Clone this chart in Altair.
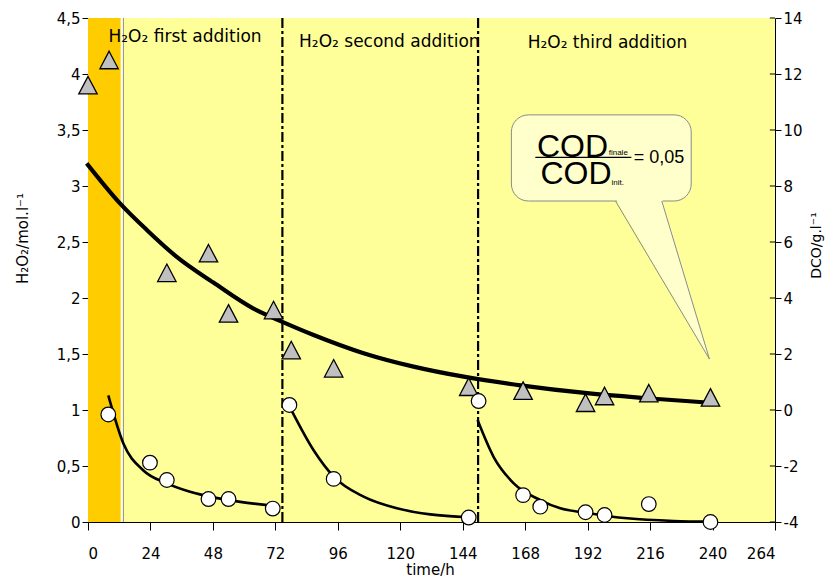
import altair as alt
import pandas as pd

# ---------------- data ----------------
# H2O2 measurements (left axis, mol/l)
h2o2_time = [7.8, 23.8, 30.3, 46.3, 54.0, 71.0, 77.4, 94.4, 146.3, 150.1, 167.2, 173.8, 191.2, 198.5, 215.5, 239.2]
h2o2_conc = [0.96, 0.53, 0.375, 0.205, 0.205, 0.12, 1.045, 0.385, 0.04, 1.08, 0.24, 0.137, 0.087, 0.0625, 0.16, 0.0]

# COD (DCO) measurements (right axis, g/l)
cod_time = [0, 8.1, 30.3, 46.3, 54.0, 71.3, 78.1, 94.4, 146.3, 167.2, 191.2, 198.5, 215.5, 239.2]
cod_value = [11.6, 12.5, 4.9, 5.6, 3.45, 3.57, 2.14, 1.49, 0.83, 0.69, 0.26, 0.5, 0.6, 0.45]

# COD fitted curve (right axis)
cod_fit_time = [0, 12.3, 22.6, 34.1, 48.2, 63.6, 74.7, 86.7, 105.9, 125.1, 144.4, 166.2, 191.8, 214.9, 240.5]
cod_fit_value = [8.75, 7.38, 6.43, 5.47, 4.55, 3.62, 3.15, 2.68, 2.03, 1.55, 1.19, 0.88, 0.60, 0.42, 0.25]

# H2O2 decay fits after each addition (left axis)
fit1_time = [7.8, 13.6, 21.3, 30.3, 39.2, 48.2, 58.5, 71.3]
fit1_conc = [1.13, 0.70, 0.46, 0.345, 0.27, 0.22, 0.18, 0.145]
fit2_time = [78.0, 86.7, 94.4, 105.9, 118.7, 131.5, 146.3]
fit2_conc = [1.005, 0.64, 0.405, 0.226, 0.122, 0.068, 0.042]
fit3_time = [149.7, 155.9, 163.6, 173.8, 181.5, 191.2, 207.2, 225.1, 239.2]
fit3_conc = [0.91, 0.58, 0.345, 0.196, 0.122, 0.083, 0.033, 0.009, 0.003]

# additions
addition_times = [74.7, 149.9]
addition_labels = ["H\u2082O\u2082 first addition", "H\u2082O\u2082 second addition", "H\u2082O\u2082 third addition"]
addition_label_t = [37.3, 115.8, 199.6]
addition_label_y = [4.33, 4.29, 4.28]

# initial (orange) phase
orange_end = 12.6
strip_end = 13.8
strip_line = 13.6

# x / y ticks
x_ticks = list(range(0, 265, 24))
yl_ticks = [0, 0.5, 1, 1.5, 2, 2.5, 3, 3.5, 4, 4.5]
yr_ticks = list(range(-4, 15, 2))

# callout (data coordinates)
box_t = [162.7, 231.8]
box_y = [2.866, 3.635]
tail_t_left = 202.7
tail_t_right = 220.5
tip_t = 238.8
tip_y = 1.455

FONT = "DejaVu Sans"
YELLOW = "#FFFF99"
ORANGE = "#FFCC00"
CALLOUT = "#FFFFCC"

# ---------------- encodings ----------------
x_scale = alt.Scale(domain=[0, 264], nice=False, zero=False)
x_axis = alt.Axis(values=x_ticks, title="time/h", grid=False,
                  labelFont=FONT, labelFontSize=15, labelColor="black",
                  tickColor="black", domainColor="black", tickSize=8, labelPadding=16,
                  titleFont=FONT, titleFontSize=15, titleFontWeight="normal", titleColor="black",
                  titleX=342, titleY=52, titleBaseline="alphabetic", titleAlign="center")


def X(f):
    return alt.X(f"{f}:Q", scale=x_scale, axis=x_axis)


yl_scale = alt.Scale(domain=[0, 4.5], nice=False, zero=False)
yl_axis = alt.Axis(values=yl_ticks, title="H\u2082O\u2082/mol.l\u207b\u00b9", grid=False,
                   labelExpr="replace(toString(datum.value), '.', ',')",
                   labelFont=FONT, labelFontSize=15, labelColor="black",
                   tickColor="black", domainColor="black", tickSize=6, labelPadding=2,
                   titleFont=FONT, titleFontSize=15, titleFontWeight="normal", titleColor="black",
                   titleX=-66, titleY=220, titleAngle=270, titleAlign="center", titleBaseline="middle")


def YL(f):
    return alt.Y(f"{f}:Q", scale=yl_scale, axis=yl_axis)


def YLn(f):
    return alt.Y(f"{f}:Q", scale=yl_scale, axis=None)


yr_scale = alt.Scale(domain=[-4, 14], nice=False, zero=False)
yr_axis = alt.Axis(orient="right", values=yr_ticks, title="DCO/g.l\u207b\u00b9", grid=False,
                   labelExpr="toString(datum.value)",
                   labelFont=FONT, labelFontSize=15, labelColor="black",
                   tickColor="black", domainColor="black", tickSize=6, labelPadding=2,
                   titleFont=FONT, titleFontSize=14, titleFontWeight="normal", titleColor="black",
                   titleX=41, titleY=227, titleAngle=270, titleAlign="center", titleBaseline="middle")


def YR(f):
    return alt.Y(f"{f}:Q", scale=yr_scale, axis=yr_axis)


# ---------------- background group (left scale, with axis) ----------------
orange_df = pd.DataFrame({"t0": [0], "t1": [orange_end], "y0": [0], "y1": [4.5]})
orange = alt.Chart(orange_df).mark_rect(color=ORANGE).encode(
    x=X("t0"), x2="t1", y=YL("y0"), y2="y1")

strip_df = pd.DataFrame({"t0": [orange_end], "t1": [strip_end], "y0": [0], "y1": [4.5]})
strip = alt.Chart(strip_df).mark_rect(color="#FFFFE8").encode(
    x=X("t0"), x2="t1", y=YL("y0"), y2="y1")

strip_rule = alt.Chart(pd.DataFrame({"t": [strip_line]})).mark_rule(
    color="#8C8C8C", strokeWidth=1).encode(x=X("t"))

add_df = pd.DataFrame({"t": addition_times})
add_rules = alt.Chart(add_df).mark_rule(
    color="black", strokeWidth=2.2, strokeDash=[10, 3, 3, 3]).encode(x=X("t"))

lab_df = pd.DataFrame({"t": addition_label_t, "y": addition_label_y, "txt": addition_labels})
add_text = alt.Chart(lab_df).mark_text(font=FONT, fontSize=17, color="black",
                                      align="center", baseline="middle").encode(
    x=X("t"), y=YL("y"), text="txt:N")

left_bg = alt.layer(orange, strip, strip_rule, add_rules, add_text)

# ---------------- COD group (right scale) ----------------
cod_fit_df = pd.DataFrame({"t": cod_fit_time, "v": cod_fit_value})
cod_line = alt.Chart(cod_fit_df).mark_line(color="black", strokeWidth=4.2,
                                           interpolate="monotone", strokeCap="square").encode(
    x=X("t"), y=YR("v"))

cod_df = pd.DataFrame({"t": cod_time, "v": cod_value})
cod_pts = alt.Chart(cod_df).mark_point(shape="M0,-0.95L1,0.95L-1,0.95Z", size=340, filled=True,
                                       fill="#C0C0C0", stroke="black", strokeWidth=1.3,
                                       opacity=1).encode(
    x=X("t"), y=YR("v"))

# inner half of the right-axis ticks (the reference's ticks cross the axis)
rtick_df = pd.DataFrame({"v": yr_ticks, "t0": [262.0] * len(yr_ticks), "t1": [264.0] * len(yr_ticks)})
rticks = alt.Chart(rtick_df).mark_rule(color="black", strokeWidth=1).encode(
    x=X("t0"), x2="t1", y=YR("v"))

right = alt.layer(cod_line, cod_pts, rticks)

# ---------------- H2O2 group + callout (left scale, no axis) ----------------
fit_df = pd.concat([
    pd.DataFrame({"t": fit1_time, "v": fit1_conc, "seg": 1}),
    pd.DataFrame({"t": fit2_time, "v": fit2_conc, "seg": 2}),
    pd.DataFrame({"t": fit3_time, "v": fit3_conc, "seg": 3}),
])
h_lines = alt.Chart(fit_df).mark_line(color="black", strokeWidth=2.6, interpolate="monotone").encode(
    x=X("t"), y=YLn("v"), detail="seg:N")

h_df = pd.DataFrame({"t": h2o2_time, "v": h2o2_conc})
h_pts = alt.Chart(h_df).mark_point(shape="circle", size=215, filled=True, fill="white",
                                   stroke="black", strokeWidth=1.2, opacity=1).encode(
    x=X("t"), y=YLn("v"))

box_df = pd.DataFrame({"t0": [box_t[0]], "t1": [box_t[1]], "y0": [box_y[0]], "y1": [box_y[1]]})
box = alt.Chart(box_df).mark_rect(fill=CALLOUT, stroke="#8A8A8A", strokeWidth=1,
                                  cornerRadius=17).encode(
    x=X("t0"), x2="t1", y=YLn("y0"), y2="y1")

tail_df = pd.DataFrame({"y": [box_y[0] + 0.025, tip_y],
                        "ta": [tail_t_left, tip_t], "tb": [tail_t_right, tip_t]})
tail = alt.Chart(tail_df).mark_area(fill=CALLOUT, orient="horizontal", opacity=1).encode(
    y=YLn("y"), x=X("ta"), x2="tb")

edge_df = pd.DataFrame({"t": [tail_t_left, tip_t, tail_t_right, tip_t],
                        "y": [box_y[0], tip_y, box_y[0], tip_y], "e": [1, 1, 2, 2]})
edges = alt.Chart(edge_df).mark_line(color="#8A8A8A", strokeWidth=1).encode(
    x=X("t"), y=YLn("y"), detail="e:N")

# fraction COD_finale / COD_init. = 0,05
big_df = pd.DataFrame({"t": [186.2, 187.5], "y": [3.262, 3.018], "txt": ["COD", "COD"]})
big_text = alt.Chart(big_df).mark_text(font="Liberation Sans", fontSize=32, color="black",
                                      align="center", baseline="alphabetic").encode(
    x=X("t"), y=YLn("y"), text="txt:N")

sub_df = pd.DataFrame({"t": [200.1, 201.2], "y": [3.277, 3.009], "txt": ["finale", "init."]})
sub_text = alt.Chart(sub_df).mark_text(font="Liberation Sans", fontSize=8, color="black",
                                      align="left", baseline="alphabetic").encode(
    x=X("t"), y=YLn("y"), text="txt:N")

eq_df = pd.DataFrame({"t": [209.7], "y": [3.203], "txt": ["= 0,05"]})
eq_text = alt.Chart(eq_df).mark_text(font="Liberation Sans", fontSize=18, color="black",
                                    align="left", baseline="alphabetic").encode(
    x=X("t"), y=YLn("y"), text="txt:N")

bar_df = pd.DataFrame({"t0": [171.9], "t1": [208.8], "y": [3.256]})
frac_bar = alt.Chart(bar_df).mark_rule(color="black", strokeWidth=1.3).encode(
    x=X("t0"), x2="t1", y=YLn("y"))

left_fg = alt.layer(h_lines, h_pts, box, tail, edges, frac_bar, big_text, sub_text, eq_text)

chart = alt.layer(left_bg, right, left_fg).resolve_scale(y="independent").properties(
    width=687, height=504,
    autosize=alt.AutoSizeParams(type="none"),
    padding={"left": 80, "top": 10, "right": 50, "bottom": 56},
    background="white",
).configure_view(fill=YELLOW, strokeWidth=0)

chart.save("out.html", embed_options={"renderer": "svg", "actions": False})
